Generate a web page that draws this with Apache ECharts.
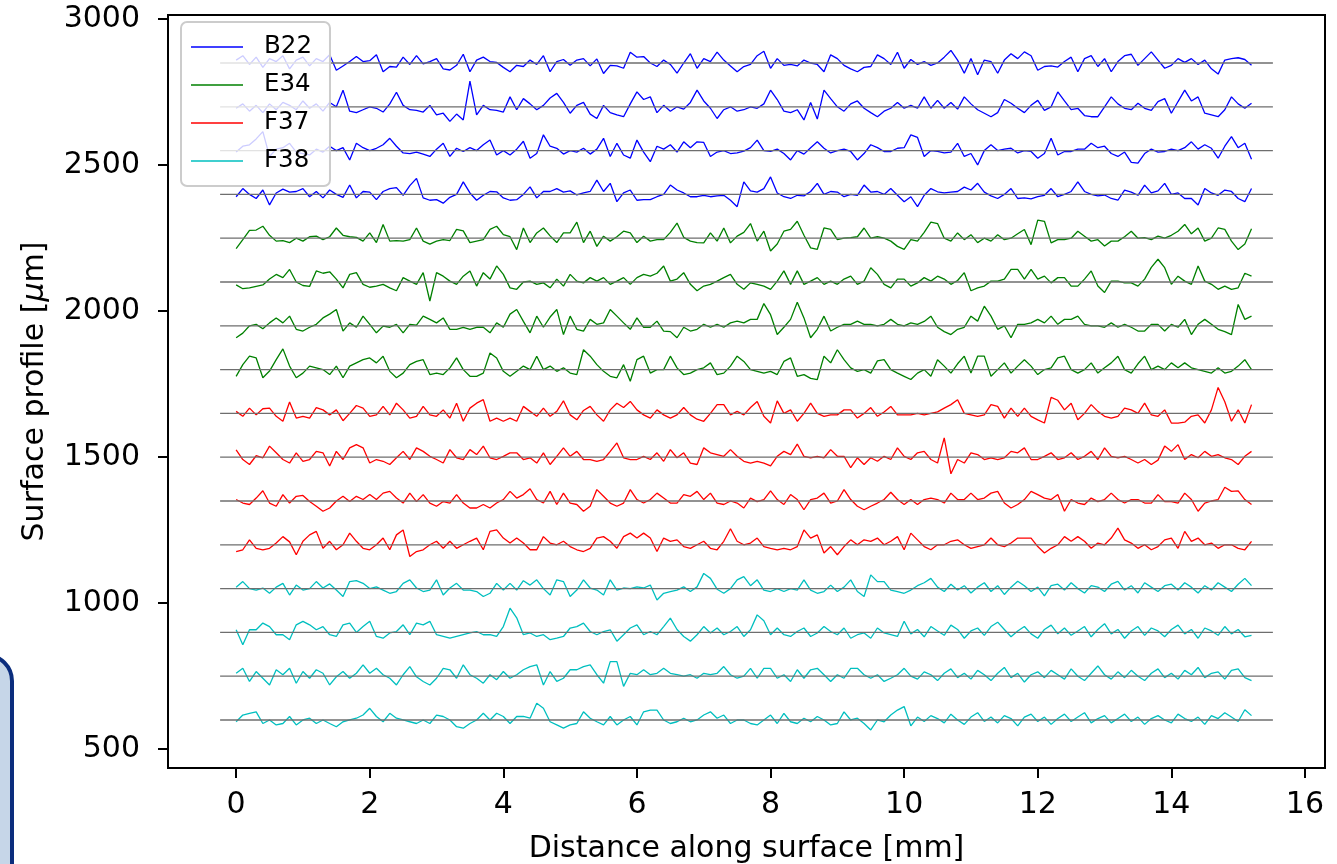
<!DOCTYPE html>
<html>
<head>
<meta charset="utf-8">
<script src="https://cdn.jsdelivr.net/npm/echarts@6/dist/echarts.min.js"></script>
<style>
  html, body { margin: 0; padding: 0; background: #fff; }
  #chart { width: 1337px; height: 864px; }
</style>
</head>
<body>
<div id="chart"></div>
<script>
// sample positions along the surface [mm]
const distance = [
  0.0, 0.1, 0.2, 0.3, 0.4, 0.5, 0.6, 0.7, 0.8, 0.9,
  1.0, 1.1, 1.2, 1.3, 1.4, 1.5, 1.6, 1.7, 1.8, 1.9,
  2.0, 2.1, 2.2, 2.3, 2.4, 2.5, 2.6, 2.7, 2.8, 2.9,
  3.0, 3.1, 3.2, 3.3, 3.4, 3.5, 3.6, 3.7, 3.8, 3.9,
  4.0, 4.1, 4.2, 4.3, 4.4, 4.5, 4.6, 4.7, 4.8, 4.9,
  5.0, 5.1, 5.2, 5.3, 5.4, 5.5, 5.6, 5.7, 5.8, 5.9,
  6.0, 6.1, 6.2, 6.3, 6.4, 6.5, 6.6, 6.7, 6.8, 6.9,
  7.0, 7.1, 7.2, 7.3, 7.4, 7.5, 7.6, 7.7, 7.8, 7.9,
  8.0, 8.1, 8.2, 8.3, 8.4, 8.5, 8.6, 8.7, 8.8, 8.9,
  9.0, 9.1, 9.2, 9.3, 9.4, 9.5, 9.6, 9.7, 9.8, 9.9,
  10.0, 10.1, 10.2, 10.3, 10.4, 10.5, 10.6, 10.7, 10.8, 10.9,
  11.0, 11.1, 11.2, 11.3, 11.4, 11.5, 11.6, 11.7, 11.8, 11.9,
  12.0, 12.1, 12.2, 12.3, 12.4, 12.5, 12.6, 12.7, 12.8, 12.9,
  13.0, 13.1, 13.2, 13.3, 13.4, 13.5, 13.6, 13.7, 13.8, 13.9,
  14.0, 14.1, 14.2, 14.3, 14.4, 14.5, 14.6, 14.7, 14.8, 14.9,
  15.0, 15.1, 15.2
];

// profile heights relative to each trace's baseline [um]
const b22_1 = [
  10, 25, -5, 20, -15, 15, 5, 25, -20, 10,
  20, -10, 15, 5, 28, -25, -10, 5, 22, 5,
  8, 28, -30, -12, -14, 20, -5, 25, -3, 5,
  15, -20, -24, -8, 30, -30, 10, 20, 5, 2,
  -15, -30, -8, -12, 10, -5, 25, -30, 5, 12,
  -8, 10, 15, -10, 14, -36, -8, -10, -18, 37,
  20, 22, 0, -12, 10, -5, -35, 0, 32, -18,
  15, 5, 37, 10, -10, -30, -12, -5, 25, 40,
  -18, 15, -8, -5, -10, 10, 0, -5, -30, 28,
  15, -8, -20, -30, -15, -12, 28, 15, -5, 37,
  -18, 12, -5, 5, -8, 0, 20, 43, 10, -35,
  15, -40, 10, 5, -35, 10, 32, 15, 38, 25,
  -25, -12, -10, -14, 5, 20, -30, 15, 25, -12,
  15, -30, 5, 25, 30, -8, 15, 38, 10, -18,
  -8, 15, 2, 15, -5, 10, -20, -38, 10, 15,
  18, 12, -8
];
const b22_2 = [
  -5, 10, -15, 5, -20, 10, -10, 15, 5, -10,
  20, -5, 10, -15, 15, 0, 57, -15, -20, -10,
  0, -5, -18, 10, 50, 5, -10, -12, -18, 5,
  -28, -22, -50, -25, -45, 88, -28, 5, -10, -12,
  -18, 34, -10, 28, 10, -10, 5, 30, 46, 15,
  -22, 5, 15, -25, -40, 5, -20, -28, -34, 10,
  51, 25, 34, -20, 5, -15, 0, -8, 15, 57,
  20, -5, -40, -10, 0, -15, -10, 0, -5, 10,
  57, 25, -15, -20, -10, -45, 15, -42, 57, 28,
  0, -15, 10, 20, -5, -20, -34, -15, -5, 15,
  -5, 5, -5, 34, -5, 22, -5, 15, -8, 34,
  10, -10, -22, -34, -20, 25, 12, -5, -20, 5,
  22, -12, 0, 51, 20, -10, -5, -30, -34, -34,
  0, 34, 10, -5, -10, 12, -5, -12, 18, 28,
  -22, 18, 57, 20, 34, -22, -28, -34, -10, 34,
  10, -5, 12
];
const b22_3 = [
  -5, 15, 20, 40, 65, -20, 5, 10, 25, -5,
  -10, -15, 5, -5, 15, 0, 10, -32, 25, 10,
  0, 8, 20, 42, 15, -8, -10, -5, -12, -20,
  5, 25, -20, 8, -3, 10, 0, 20, 36, -15,
  0, -15, 5, 32, -26, -10, 54, 15, 8, -12,
  0, -5, 8, -12, 5, 42, -20, 25, -15, -26,
  36, -5, -38, 15, 5, 20, -5, 30, 10, 30,
  28, -20, -5, 0, -10, -8, -2, 10, 36, 0,
  -3, 5, -10, -32, 0, -12, 10, 30, 8, -8,
  0, 5, -3, -32, -10, 20, 10, -3, -3, 8,
  10, 54, 45, -20, 0, -3, -8, -5, 25, -20,
  -10, -49, 0, 20, 0, 5, 8, -8, 0, -3,
  -26, -10, 42, -15, -3, -3, 5, 5, 25, 10,
  15, -10, -20, -5, -40, -43, -10, 5, -5, -3,
  5, 0, 10, 30, 5, 20, 8, -26, 15, 48,
  10, 25, -30
];
const b22_4 = [
  -8, 20, 0, -14, 15, -36, 5, 18, 8, 10,
  20, -8, 10, -12, 15, 0, -10, 32, -12, 10,
  8, -18, 10, 20, 23, -3, 30, 55, -12, -20,
  -18, -30, -10, 0, 43, 5, -20, -3, 10, 9,
  -12, -20, -18, 0, 26, -12, 10, 10, 20, 8,
  12, -2, 5, 10, 49, 10, 38, -25, 5, 15,
  -20, -18, -18, -8, 0, 32, 15, 5, -8, -8,
  -3, -8, -5, -3, -20, -42, 43, 12, 8, 20,
  60, 5, -8, -14, -3, -5, 10, 38, 0, 10,
  8, -8, 0, -3, 32, 8, 10, 0, 20, -3,
  -25, -8, -42, -3, 20, 9, 5, 8, 10, 25,
  15, 38, 8, -5, -14, 0, 20, -14, -12, -15,
  -8, -3, 20, -8, 0, 10, 43, 10, 0, -5,
  -2, -14, -20, 15, 8, -3, 32, 5, 12, 38,
  0, 5, -14, -14, -36, 20, 5, -3, 15, 10,
  -14, -25, 20
];
const e34_1 = [
  -36, -5, 27, 28, 41, 10, -10, -8, -15, 0,
  -10, 5, 7, -5, 5, 35, 10, 5, 3, -10,
  18, -15, 47, -10, -8, -10, -5, 35, -10, -20,
  -10, -5, -8, 30, 25, -15, -10, -5, 30, 41,
  12, 5, -39, 35, -15, 18, 35, 8, -15, 18,
  18, 55, -15, 24, -28, 7, -10, 5, 24, 18,
  -15, 7, -10, -5, -5, 20, 52, 3, -10, -15,
  -16, 18, -10, 35, -16, 7, 20, 50, -10, 24,
  -44, -20, 24, 30, 58, 10, -33, -38, 35, 30,
  -5, 0, 2, 5, 35, 0, 5, 0, -10, -28,
  -38, -5, -10, 20, 55, 50, 0, -10, 18, -5,
  12, -15, 0, -10, 12, -5, 0, 15, 30, -22,
  62, 58, -16, -5, -5, 0, 24, 7, -10, -5,
  -27, -10, -10, 5, 24, 0, 2, -5, 7, 0,
  10, 24, 47, 15, 35, -10, 0, 35, 30, -10,
  -39, -20, 32
];
const e34_2 = [
  -10, -23, -20, -15, -10, 10, 26, 15, 43, 0,
  -12, -15, 38, 30, 35, 10, -20, 26, 32, -8,
  -18, -14, -8, -20, -30, 15, 3, -8, 32, -65,
  32, 20, 3, -8, 20, 38, -14, 32, 10, 55,
  26, -20, -25, 0, 3, -8, -3, -20, 10, -14,
  26, 3, -3, 15, 3, 15, -8, 3, 15, -8,
  15, 26, 20, 30, 55, 3, 10, 32, -8, -30,
  -14, -8, 3, 15, 26, -8, -25, -3, -8, -14,
  -25, 3, 38, -8, 38, -8, 3, 15, -8, 3,
  -8, 10, 20, -8, 3, 49, 26, -8, -20, 10,
  10, -14, -3, 15, 3, 20, 10, -8, 5, 32,
  -30, -20, -14, 3, 3, 10, 43, 43, 10, 43,
  10, 20, -3, 15, 15, -14, -14, 10, 38, -14,
  -36, 3, 3, -3, -3, -14, 10, 50, 78, 49,
  -8, 20, 3, -8, 55, 3, -8, -25, -14, -25,
  -20, 30, 20
];
const e34_3 = [
  -41, -25, 0, 5, -10, 10, 27, 10, 33, -12,
  -18, -5, 5, 27, 40, 56, -18, 10, -5, 33,
  5, -24, -1, -5, 5, -24, 5, 2, 33, 22,
  10, 27, -12, -12, -5, -12, -5, -5, -24, 10,
  -5, 40, 56, 15, -24, 33, -5, 30, 56, -30,
  33, -12, -18, 22, 5, 10, 56, 33, 10, -12,
  27, -5, -5, 16, -18, -20, -41, -5, -18, -12,
  5, -5, 5, -5, 10, 16, 10, 22, 22, 76,
  38, -30, -5, 22, 81, 27, -41, -12, 33, -18,
  -5, 5, 5, 16, 5, 5, 0, 5, 22, 5,
  0, 10, 5, 15, 33, -5, -20, -30, -12, -5,
  33, 16, 67, 33, -12, 0, -41, 5, 5, 10,
  22, 10, 33, 5, 22, 22, 33, 5, 0, 0,
  -5, 10, -5, 5, -5, -18, -18, 5, 5, -18,
  5, -5, 22, -30, 5, 22, 5, -12, -20, -30,
  73, 22, 33
];
const e34_4 = [
  -23, 17, 46, 40, -28, -5, 34, 71, 12, -28,
  -12, 12, 6, 0, -17, 12, -28, 12, 23, 34,
  40, 23, 46, -6, -28, -12, 17, 28, 34, -17,
  -12, -17, 6, 40, 0, -23, -23, -12, 57, 40,
  -6, -23, -6, 12, 0, 46, 0, 12, -6, 6,
  -12, -17, 68, 46, 17, -6, -23, -28, 17, -40,
  34, 46, -12, 0, 0, 46, 6, -17, -12, 0,
  6, 23, -17, -12, 12, 46, 28, 0, -6, -12,
  -6, -17, 28, 40, -23, -17, -30, -34, 46, 23,
  68, 34, 6, -6, 0, -12, 30, 34, 0, -12,
  -23, -34, -12, 0, -23, 34, 12, -12, 20, 46,
  -12, 46, 46, -23, 0, 23, -12, 12, 34, 12,
  -17, 0, 6, 40, 46, 0, -12, 0, 23, -12,
  6, 23, 46, 0, -12, 20, 46, 0, 12, 0,
  23, 6, 23, 6, 0, -6, -12, 6, -12, -6,
  12, 34, 0
];
const f37_1 = [
  7, -10, 18, -5, 16, 18, -10, -27, 39, -16,
  -10, -16, 20, 12, -5, 12, -25, 0, 27, 18,
  -10, -5, 24, -5, 35, 12, -16, -10, 24, -5,
  -10, 12, -16, 35, -27, 18, 35, 47, -27, -16,
  -27, -16, -27, 24, 7, -10, 18, -10, 7, 43,
  -5, -22, 10, 24, -5, -27, 12, 35, 20, 41,
  12, -5, -16, 12, -5, -16, -5, 20, -5, -20,
  -27, 0, 30, 30, -5, 7, -5, 20, 41, -10,
  -33, 43, 0, 12, -27, 0, 35, 0, -10, -5,
  -5, 12, 12, -16, 0, 20, -10, 5, 24, -5,
  -5, -5, 0, -5, 0, 5, 18, 30, 47, 0,
  -5, -10, -5, 30, 24, -16, 18, -10, 18, -10,
  -22, -33, 55, 45, 12, 35, -22, 0, 30, 7,
  -10, -16, -10, 18, 12, 0, 35, -5, -10, 12,
  -33, -33, -30, -10, -5, -33, 12, 89, 40, -27,
  12, -33, 30
];
const f37_2 = [
  25, -8, -25, 5, -2, 38, 15, -8, -20, 15,
  -14, -8, 20, 15, -30, 20, -8, 32, 43, 32,
  -20, -8, -14, -25, -2, 20, -8, 32, 20, 3,
  -8, -20, 26, -2, -8, 26, 9, 38, -2, -8,
  3, 15, 15, -8, -2, -20, 15, -25, 3, 32,
  3, 20, -8, -8, -14, -8, 20, 49, -2, -8,
  -8, 3, -8, 15, -14, 26, -2, 15, -20, -25,
  32, 15, 9, 3, 26, 3, -14, -20, -14, -20,
  -30, 3, 20, 9, 45, 3, -2, 3, -2, 26,
  3, 3, -36, -2, -25, -2, -14, 3, -8, 32,
  3, -8, 15, 20, -8, -20, 66, -57, -8, -20,
  15, 9, -8, -2, -8, -2, 20, 15, 32, -8,
  -8, 3, 15, -8, -2, 15, -8, 3, 20, -8,
  32, 3, -2, 3, -8, -20, -8, -25, -10, 38,
  20, 43, -8, 9, -2, 20, 3, 9, -2, -8,
  -25, 3, 20
];
const f37_3 = [
  5, -7, -12, 10, 35, -7, -18, 22, -7, 16,
  19, -2, -18, -35, -24, 0, 16, -2, 16, 5,
  22, 5, 27, 33, 10, -7, 27, -2, 22, -7,
  -18, -2, -7, 22, -7, -24, -24, -12, -24, -7,
  5, 33, 10, 22, 42, 5, -7, 33, -12, 27,
  -7, -12, -35, -18, 39, 16, -7, -18, -7, 39,
  5, -7, 5, 27, 10, -7, -7, 22, 16, 33,
  5, 27, -7, -12, 0, -7, -24, 10, -2, 5,
  35, 5, -12, 22, 5, -30, 5, 10, 27, -7,
  0, 39, 5, -18, -30, -18, -7, 5, 30, 5,
  -12, 5, -12, 5, 10, 5, -7, 27, 5, 5,
  27, 5, 10, 27, 33, -7, -24, -12, 5, 33,
  22, 10, 5, 22, -35, 5, -7, -12, 10, -2,
  5, 27, 5, -7, 5, 5, -7, -7, 22, -2,
  -2, -7, 27, 5, -35, -7, 0, 5, 47, 33,
  35, 5, -12
];
const f37_4 = [
  -23, -17, 17, -12, -17, -12, 6, 28, 10, -34,
  12, 34, 46, -12, 12, -17, 0, 40, 12, -12,
  -17, 0, 23, -17, 34, 51, -40, -23, -17, 0,
  12, -12, 12, -12, 0, 12, 23, -17, 46, 51,
  23, 6, 23, 6, -17, -17, 28, 6, 0, 12,
  -6, -17, -23, -12, 23, 28, 12, -12, 28, 40,
  23, 40, 23, -23, 23, 12, 17, -6, -12, 0,
  12, -12, -17, 12, 55, 12, 0, 6, 23, -6,
  -12, -17, -12, -17, -6, 51, 23, 34, -28, -6,
  -34, -6, 17, 0, 17, 12, 23, 0, 12, 28,
  -17, 40, 17, -6, -17, 0, 0, 12, 17, 0,
  -12, -6, 0, 23, 0, -6, 6, 23, 23, 23,
  -6, -28, -12, 0, 28, 12, 28, 12, -12, 6,
  0, 23, 57, 17, 6, -12, 0, -17, -6, 17,
  23, -12, 46, 12, 23, 0, 6, -12, 0, 0,
  -12, -17, 12
];
const f38_1 = [
  5, 24, 0, -5, 2, -16, 5, 18, -22, 12,
  -5, 0, 24, 2, 16, -5, -27, 24, 27, 18,
  0, 6, -5, -16, -10, 18, 30, 2, -10, -5,
  30, -22, 2, 18, -5, -5, -10, -27, -16, 18,
  -5, 18, -5, 27, 12, 30, 0, -22, 30, 24,
  -27, -5, 30, 2, -5, -22, 30, -5, 2, 0,
  6, 2, 12, -39, -16, -10, -5, 6, -10, 6,
  52, 35, -2, -16, 0, 30, 41, 10, 30, -5,
  -10, 0, -10, 0, -5, 30, -5, -16, -10, 12,
  -10, 5, 30, -10, -27, 47, 24, 24, -5, -10,
  -16, -5, 10, 20, 35, 5, -10, 15, -5, 10,
  -15, 5, 20, -10, 10, -20, 5, 25, 10, -10,
  5, -25, 10, 15, -5, 20, 0, -15, 10, 5,
  -10, 15, 25, -5, 10, -15, 20, 5, -10, 10,
  15, -5, 20, 5, -15, 10, -5, 20, 5, -10,
  15, 35, 10
];
const f38_2 = [
  9, -42, 9, 9, 32, 20, -8, -8, -25, 26,
  38, 26, 9, 20, -8, -14, 26, 32, 0, 20,
  38, -14, -20, -2, 3, 26, -8, 32, 26, 38,
  -8, -14, -20, -14, -8, -2, 3, -8, -8, -14,
  20, 83, 50, -8, -2, -14, -8, -25, -20, -14,
  15, 20, 32, 3, -8, 3, 9, -30, -8, 15,
  26, -8, 3, -8, 20, 49, 10, -14, -30, -8,
  20, -2, 15, -8, 3, 20, -14, 9, 60, 40,
  -8, 15, -8, -14, 3, 15, -14, -2, 20, 3,
  -8, 15, -20, -8, -2, -20, 15, -2, -8, -14,
  38, -5, 10, -15, 20, 5, -10, 25, 10, -20,
  5, 15, -10, 20, 35, 10, -15, 5, 20, -5,
  -20, 10, 25, -5, 15, -10, 5, 20, -15, 10,
  30, -5, 10, -20, 5, 20, -10, 15, 5, -15,
  10, 25, -5, 10, -20, 15, 5, -10, 20, -5,
  10, -15, -10
];
const f38_3 = [
  10, 27, -18, 16, -7, -30, 22, 5, 27, -24,
  16, -7, 22, 10, -30, -2, 16, -7, 10, 39,
  10, 27, 5, -7, -30, 5, 33, -2, -18, -30,
  -7, 27, 22, -7, 39, 5, -7, -24, 5, -12,
  16, -7, 5, 22, 33, 39, -30, 16, -18, -7,
  22, 22, 33, 39, 5, -24, 50, 50, -35, 10,
  5, 22, 5, 10, 27, 10, 5, 0, 5, -7,
  10, 5, 10, 33, 5, -7, 0, 27, -7, 27,
  27, -7, 5, -18, 22, -7, 22, 27, 5, -18,
  5, -7, 27, 27, 5, -7, 5, -18, -7, 5,
  27, 0, -10, 15, 5, -15, 10, 25, -5, 10,
  -10, 20, 5, -15, 10, 30, -5, 10, -20, 5,
  15, -5, 20, 5, -10, 25, 0, -15, 10, 35,
  5, -10, 15, -5, 20, 0, -15, 10, 25, -5,
  10, -10, 20, 5, 30, -5, 10, 15, -10, 20,
  25, -5, -15
];
const f38_4 = [
  -6, 17, 23, 28, -12, 0, -17, -12, 12, -17,
  0, 6, -12, 0, -12, -23, -6, 0, 6, 17,
  40, 12, -6, 23, 6, 0, -6, -12, 0, -12,
  17, 12, 0, -23, -28, -12, 0, 23, 0, 23,
  12, -12, 12, 12, 6, 57, 40, -6, -17, -28,
  -17, -12, 28, 6, -6, -17, 12, -17, 0, 12,
  -17, 28, 34, 34, 0, -12, -6, 6, -6, 0,
  17, 28, 6, 17, -12, 0, 0, -12, -17, 0,
  17, -12, 23, -6, -12, 6, -6, 12, 0, -17,
  -12, 28, 0, 6, -12, -34, 0, -6, 17, 34,
  46, -20, 10, -5, 15, 5, -10, 20, 0, -15,
  10, 25, -5, 10, -10, 15, 5, -20, 10, 20,
  -5, 10, -15, 5, 20, -5, 10, 25, -10, 5,
  15, -10, 5, 20, -5, 10, -15, 5, 15, 0,
  -10, 20, 5, -5, 10, -15, 15, 5, 25, 10,
  -5, 35, 15
];

// sample names and the vertical offset each trace is plotted at [um]
const sampleNames = ['B22', 'E34', 'F37', 'F38'];
const traceSample = ['B22', 'B22', 'B22', 'B22', 'E34', 'E34', 'E34', 'E34',
                     'F37', 'F37', 'F37', 'F37', 'F38', 'F38', 'F38', 'F38'];
const traceOffset = [2850, 2700, 2550, 2400, 2250, 2100, 1950, 1800,
                     1650, 1500, 1350, 1200, 1050, 900, 750, 600];
const traces = [b22_1, b22_2, b22_3, b22_4, e34_1, e34_2, e34_3, e34_4,
                f37_1, f37_2, f37_3, f37_4, f38_1, f38_2, f38_3, f38_4];
// extent of the grey reference lines [mm]
const baselineX = [-0.24, 15.52];

const xTicks = [0, 2, 4, 6, 8, 10, 12, 14, 16];
const yTicks = [500, 1000, 1500, 2000, 2500, 3000];

const colors = { B22: '#0000ff', E34: '#008000', F37: '#ff0000', F38: '#00bfbf' };
const font = 'DejaVu Sans';

const series = [];
traces.forEach((trace, k) => {
  const name = traceSample[k];
  series.push({
    name: name,
    type: 'line',
    data: distance.map((x, i) => [x, traceOffset[k] + trace[i]]),
    symbol: 'none',
    color: colors[name],
    lineStyle: { width: 1.3, color: colors[name] },
    z: 2,
  });
});
traceOffset.forEach((off) => {
  series.push({
    type: 'line',
    data: baselineX.map((x) => [x, off]),
    symbol: 'none',
    silent: true,
    lineStyle: { width: 1.3, color: '#6e6e6e' },
    z: 3,
  });
});

const chart = echarts.init(document.getElementById('chart'));
chart.setOption({
  animation: false,
  grid: {
    left: 168, right: 12, top: 15, bottom: 96,
    outerBoundsMode: 'none',
    show: true, borderColor: '#000', borderWidth: 2,
  },
  legend: {
    data: sampleNames,
    orient: 'vertical',
    left: 181, top: 22,
    padding: [12, 18, 12, 10],
    itemGap: 12,
    itemWidth: 52,
    itemHeight: 1.5,
    icon: 'rect',
    backgroundColor: 'rgba(255,255,255,0.8)',
    borderColor: '#cccccc',
    borderWidth: 2,
    borderRadius: 6,
    textStyle: { fontSize: 24.5, fontFamily: font, color: '#000', lineHeight: 26, padding: [0, 0, 0, 16] },
  },
  xAxis: {
    type: 'value',
    min: -1.02, max: 16.30,
    name: 'Distance along surface [mm]',
    nameLocation: 'middle',
    nameGap: 66,
    nameTextStyle: { fontSize: 30, fontFamily: font, color: '#000' },
    axisLine: { show: true, onZero: false, lineStyle: { color: '#000', width: 2 } },
    axisTick: { show: true, customValues: xTicks, length: 10, lineStyle: { color: '#000', width: 2 } },
    axisLabel: { customValues: xTicks, fontSize: 30, fontFamily: font, color: '#000', margin: 22,
                 formatter: (v) => String(v) },
    splitLine: { show: false },
  },
  yAxis: {
    type: 'value',
    min: 435.6, max: 3014.4,
    name: 'Surface profile [{i|μ}m]',
    nameLocation: 'middle',
    nameGap: 118,
    nameTextStyle: {
      fontSize: 30, fontFamily: font, color: '#000',
      rich: { i: { fontSize: 30, fontFamily: font, fontStyle: 'italic', color: '#000' } },
    },
    axisLine: { show: true, onZero: false, lineStyle: { color: '#000', width: 2 } },
    axisTick: { show: true, customValues: yTicks, length: 10, lineStyle: { color: '#000', width: 2 } },
    axisLabel: { customValues: yTicks, fontSize: 30, fontFamily: font, color: '#000', margin: 28,
                 formatter: (v) => String(v) },
    splitLine: { show: false },
  },
  graphic: [
    {
      type: 'rect',
      shape: { x: -40, y: 655, width: 52, height: 260, r: 30 },
      style: { fill: '#c6d6e8', stroke: '#0b2d7d', lineWidth: 4 },
      z: 10,
    },
  ],
  series: series,
});
</script>
</body>
</html>
